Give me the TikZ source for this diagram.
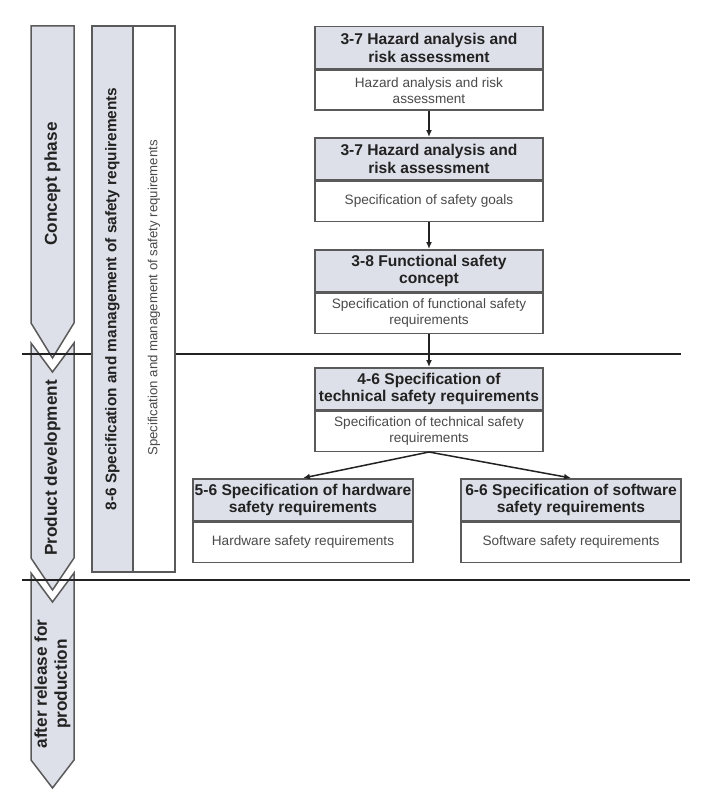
\documentclass[tikz,border=0pt]{standalone}
\usepackage{fontspec}
\setmainfont{Liberation Sans}
\usepackage{xcolor}
\usetikzlibrary{arrows.meta,positioning}
\definecolor{band}  {HTML}{DDE0E8}
\definecolor{edge}  {HTML}{5A5A5A}
\definecolor{ink}   {HTML}{222222}
\definecolor{inkLt} {HTML}{4A4A4A}
\tikzset{
  hdr/.style={draw=edge, fill=band, line width=1.5pt, minimum width=228,
    minimum height=42, align=center, inner sep=1pt, text=ink,
    font=\fontsize{15.6}{17.5}\selectfont\bfseries},
  body/.style={draw=edge, fill=white, line width=1.5pt, minimum width=228,
    minimum height=40, align=center, inner sep=1pt, text=inkLt,
    font=\fontsize{13.6}{16}\selectfont},
  phase/.style={draw=edge, fill=band, line width=1.5pt, line join=miter},
  phaselab/.style={rotate=90, align=center, text=ink,
    font=\fontsize{17.2}{20}\selectfont\bfseries},
  cut/.style={draw=ink, line width=2pt},
  flow/.style={draw=ink, line width=1.5pt, -{Latex[length=7pt,width=6pt]}}
}
\begin{document}
\begin{tikzpicture}[x=1pt,y=-1pt]
 \useasboundingbox (0,0) rectangle (701,797);
 % phase arrows
 \draw[phase] (31,26) -- (74,26) -- (74,323) -- (52.5,358) -- (31,323) -- cycle;
 \draw[phase] (31,343) -- (52.5,372) -- (74,343) -- (74,558) -- (52.5,590)
   -- (31,558) -- cycle;
 \draw[phase] (31,573) -- (52.5,602) -- (74,573) -- (74,760) -- (52.5,788)
   -- (31,760) -- cycle;
 \node[phaselab] (concept) at (52.5,184) {Concept phase};
 \node[phaselab] (devel) at (52.5,468) {Product development};
 \node[phaselab] (release) at (52.5,684) {after release for\\production};
 % phase borders
 \draw[cut] (22,354) -- (681,354);
 \draw[cut] (22,580) -- (690,580);
 % supporting process column
 \draw[phase] (92,26) rectangle (133,572);
 \draw[draw=edge, fill=white, line width=1.5pt] (133,26) rectangle (175,572);
 \node[phaselab, font=\fontsize{15.4}{18}\selectfont\bfseries] (mgmt) at (112.5,299)
   {8-6 Specification and management of safety requirements};
 \node[rotate=90, text=inkLt, font=\fontsize{13.2}{16}\selectfont] (mgmtb) at (154,298)
   {Specification and management of safety requirements};
 % work products
 \node[hdr, anchor=north] (hara) at (429,26) {3-7 Hazard analysis and\\risk assessment};
 \node[body, below=0pt of hara] (harab) {Hazard analysis and risk\\assessment};
 \node[hdr, anchor=north] (goals) at (429,137) {3-7 Hazard analysis and\\risk assessment};
 \node[body, below=0pt of goals] (goalsb) {Specification of safety goals};
 \node[hdr, anchor=north] (fsc) at (429,249) {3-8 Functional safety\\concept};
 \node[body, below=0pt of fsc] (fscb) {Specification of functional safety\\requirements};
 \node[hdr, anchor=north] (tsr) at (429,367) {4-6 Specification of\\technical safety requirements};
 \node[body, below=0pt of tsr] (tsrb) {Specification of technical safety\\requirements};
 \node[hdr, minimum width=220, anchor=north] (hw) at (303,478)
   {5-6 Specification of hardware\\safety requirements};
 \node[body, minimum width=220, below=0pt of hw] (hwb) {Hardware safety requirements};
 \node[hdr, minimum width=220, anchor=north] (sw) at (571,478)
   {6-6 Specification of software\\safety requirements};
 \node[body, minimum width=220, below=0pt of sw] (swb) {Software safety requirements};
 % flow
 \draw[flow] (harab) -- (goals);
 \draw[flow] (goalsb) -- (fsc);
 \draw[flow] (fscb) -- (tsr);
 \draw[flow] (tsrb.south) -- (hw.north);
 \draw[flow] (tsrb.south) -- (sw.north);
\end{tikzpicture}
\end{document}
